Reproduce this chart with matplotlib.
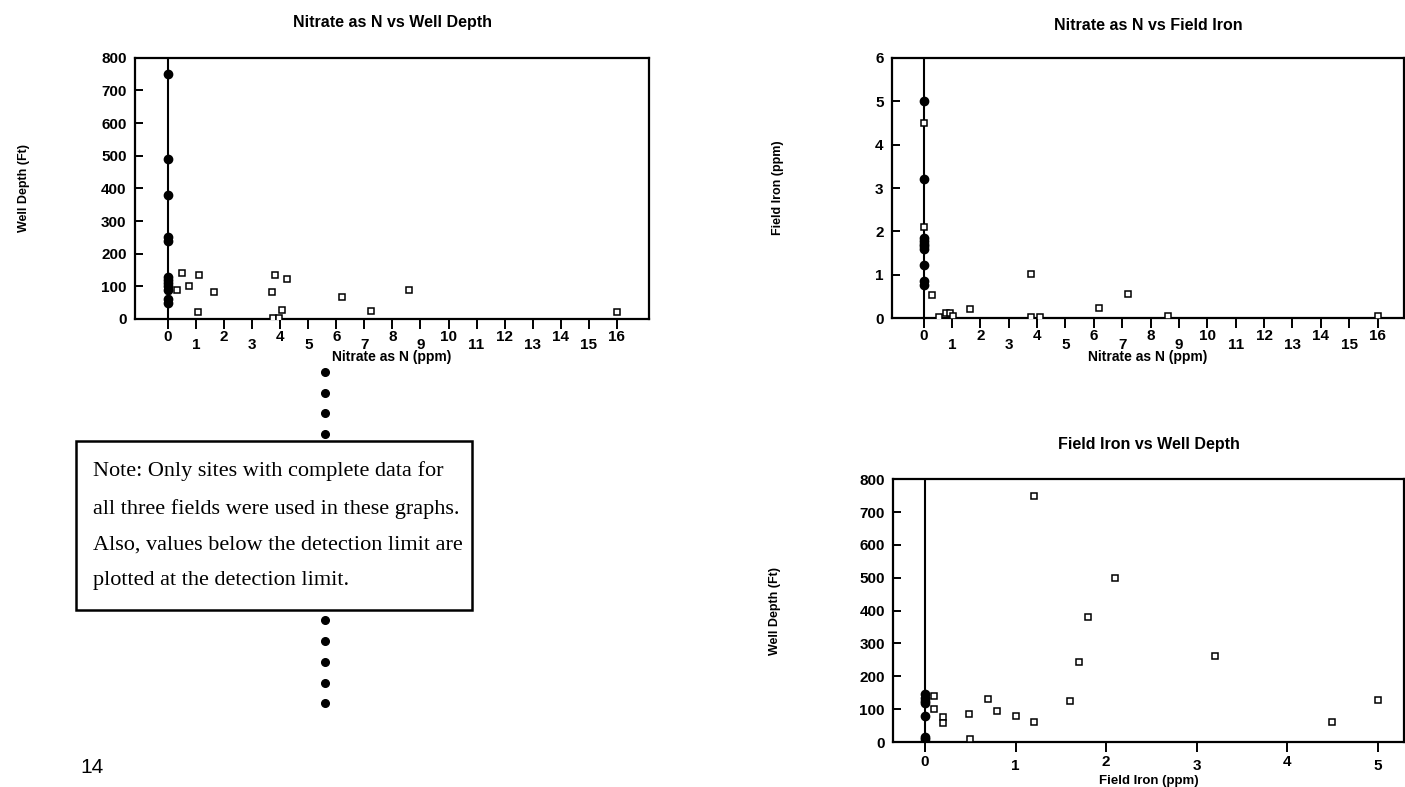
import matplotlib
matplotlib.use("Agg")
import matplotlib.pyplot as plt
from matplotlib.lines import Line2D
from matplotlib.patches import Rectangle

# ---------------- data ----------------
# Chart 1: Nitrate as N (ppm) vs Well Depth (Ft)
c1_zero_depth = [750, 490, 380, 250, 240, 130, 120, 110, 100, 90, 60, 50]
c1_nitrate = [0.3, 0.5, 0.75, 1.1, 1.05, 1.65, 3.7, 3.8, 4.25, 4.05, 3.75, 3.95, 6.2, 7.25, 8.6, 16.0]
c1_depth = [90, 140, 100, 135, 20, 82, 82, 135, 122, 28, 2, 2, 67, 24, 88, 22]

# Chart 2: Nitrate as N (ppm) vs Field Iron (ppm)
c2_zero_iron = [5.0, 3.2, 1.85, 1.78, 1.72, 1.66, 1.6, 1.22, 0.85, 0.77]
c2_nitrate = [0.0, 0.0, 0.3, 0.55, 0.8, 0.95, 1.05, 1.65, 3.8, 3.8, 4.1, 6.2, 7.2, 8.6, 16.0]
c2_iron = [4.5, 2.1, 0.53, 0.03, 0.12, 0.12, 0.05, 0.22, 1.03, 0.02, 0.02, 0.23, 0.57, 0.05, 0.05]

# Chart 3: Field Iron (ppm) vs Well Depth (Ft)
c3_zero_depth = [145, 135, 125, 120, 78, 15, 8]
c3_iron = [0.1, 0.1, 0.2, 0.2, 0.49, 0.5, 0.7, 0.8, 1.0, 1.2, 1.2, 1.6, 1.7, 1.8, 2.1, 3.2, 4.5, 5.0]
c3_depth = [140, 100, 75, 58, 85, 10, 130, 95, 78, 62, 750, 125, 245, 380, 500, 262, 60, 128]

nitrate_ticks = list(range(0, 17))
iron_ticks = [0, 1, 2, 3, 4, 5]
depth_ticks = [0, 100, 200, 300, 400, 500, 600, 700, 800]
iron_y_ticks = [0, 1, 2, 3, 4, 5, 6]

titles = ["Nitrate as N vs Well Depth", "Nitrate as N vs Field Iron", "Field Iron vs Well Depth"]
xlabels = ["Nitrate as N (ppm)", "Nitrate as N (ppm)", "Field Iron (ppm)"]
ylabels = ["Well Depth (Ft)", "Field Iron (ppm)", "Well Depth (Ft)"]

note_lines = [
    "Note: Only sites with complete data for",
    "all three fields were used in these graphs.",
    "Also, values below the detection limit are",
    "plotted at the detection limit.",
]
page_number = "14"

# ---------------- figure ----------------
W, H = 1405, 787
fig = plt.figure(figsize=(W / 100, H / 100), dpi=100)
fig.patch.set_facecolor("white")
plt.rcParams["font.family"] = ["Liberation Sans", "DejaVu Sans"]


def add_ax(l, r, t, b):
    return fig.add_axes([l / W, 1 - b / H, (r - l) / W, (b - t) / H])


def style(ax, xticks, yticks, xlim, ylim, title, xl, yl, title_y, xl_y, yl_x, box, xl_size=10):
    l, r, t, b = box
    ax.set_xlim(*xlim)
    ax.set_ylim(*ylim)
    for s in ax.spines.values():
        s.set_linewidth(1.6)
    ax.axvline(0, color="black", lw=1.5, zorder=2)
    even = [v for i, v in enumerate(xticks) if i % 2 == 0]
    odd = [v for i, v in enumerate(xticks) if i % 2 == 1]
    ax.set_xticks(even)
    ax.set_xticklabels([str(v) for v in even], fontsize=11, fontweight="bold")
    ax.set_xticks(odd, minor=True)
    ax.set_xticklabels([str(v) for v in odd], minor=True, fontsize=11, fontweight="bold")
    ax.tick_params(axis="x", which="major", direction="out", length=7, width=1.4, pad=1)
    ax.tick_params(axis="x", which="minor", direction="out", length=7, width=1.4, pad=7)
    ax.set_yticks(yticks)
    ax.set_yticklabels([str(v) for v in yticks], fontsize=11, fontweight="bold")
    ax.tick_params(axis="y", direction="in", length=6, width=1.4, pad=6)
    fig.text((l + r) / 2 / W, 1 - title_y / H, title, ha="center", va="center",
             fontsize=11.5, fontweight="bold")
    fig.text((l + r) / 2 / W, 1 - xl_y / H, xl, ha="center", va="center",
             fontsize=xl_size, fontweight="bold")
    fig.text(yl_x / W, 1 - (t + b) / 2 / H, yl, ha="center", va="center",
             rotation=90, fontsize=9, fontweight="bold")


mk_open = dict(ls="none", marker="s", ms=5, mfc="white", mec="black", mew=1.1, zorder=3)
mk_fill = dict(ls="none", marker="o", ms=6, mfc="black", mec="black", zorder=3)

# Chart 1
box1 = (135, 649, 57.7, 319)
ax1 = add_ax(*box1)
style(ax1, nitrate_ticks, depth_ticks, (-1.18, 17.15), (0, 800), titles[0], xlabels[0], ylabels[0],
      23, 357, 24, box1)
ax1.plot([0] * len(c1_zero_depth), c1_zero_depth, **mk_fill)
ax1.plot(c1_nitrate, c1_depth, **mk_open)

# Chart 2
box2 = (892, 1404, 57.7, 318.3)
ax2 = add_ax(*box2)
style(ax2, nitrate_ticks, iron_y_ticks, (-1.11, 16.93), (0, 6), titles[1], xlabels[1], ylabels[1],
      25, 357, 778, box2)
ax2.plot([0] * len(c2_zero_iron), c2_zero_iron, **mk_fill)
ax2.plot(c2_nitrate, c2_iron, **mk_open)

# Chart 3
box3 = (893.3, 1404, 479.3, 742)
ax3 = add_ax(*box3)
style(ax3, iron_ticks, depth_ticks, (-0.35, 5.29), (0, 800), titles[2], xlabels[2], ylabels[2],
      445, 781, 775, box3, xl_size=9.5)
ax3.tick_params(axis="x", which="major", pad=2.5)
ax3.tick_params(axis="x", which="minor", pad=5)
ax3.plot([0] * len(c3_zero_depth), c3_zero_depth, **mk_fill)
ax3.plot(c3_iron, c3_depth, **mk_open)

# dotted separator
dot_y = [372 + 20.7 * i for i in range(17)]
fig.add_artist(Line2D([325 / W] * len(dot_y), [1 - y / H for y in dot_y], ls="none",
                      marker="o", ms=5.5, color="black", transform=fig.transFigure, zorder=1))

# note box
fig.add_artist(Rectangle((76 / W, 1 - 610 / H), (472 - 76) / W, (610 - 440.7) / H,
                         transform=fig.transFigure, facecolor="white", edgecolor="black",
                         lw=1.8, zorder=2))
for yb, line in zip([476, 514, 550, 585], note_lines):
    fig.text(93 / W, 1 - yb / H, line, ha="left", va="baseline", fontsize=16,
             family=["Liberation Serif", "DejaVu Serif"], zorder=3)

fig.text(80 / W, 1 - 773 / H, page_number, ha="left", va="baseline", fontsize=15)

fig.savefig("out.png", dpi=100, facecolor="white")
